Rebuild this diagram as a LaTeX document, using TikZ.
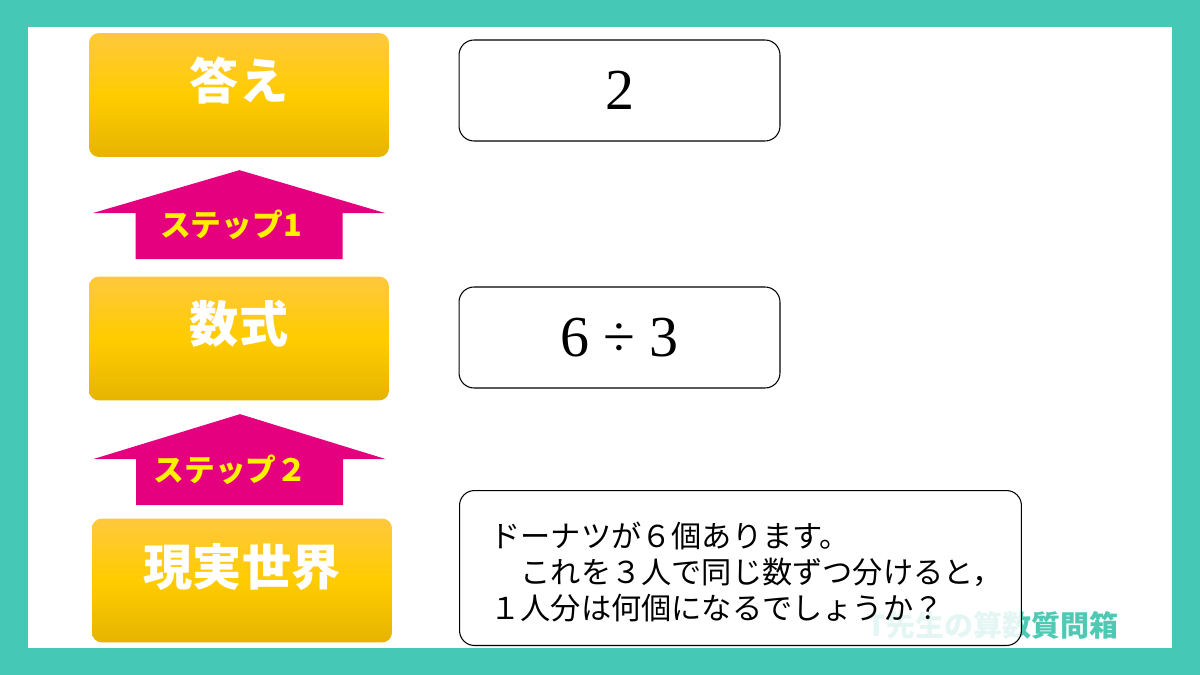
\documentclass[tikz,border=0pt]{standalone}
\usepackage{fontspec}
\newfontfamily\jpfont{Noto Sans CJK JP}
\newfontfamily\numfont{Liberation Serif}
\usepackage{tikz}
\usetikzlibrary{positioning,calc}

\definecolor{bgteal}{HTML}{45C8B5}
\definecolor{goldtop}{HTML}{FFC83D}
\definecolor{goldmid}{HTML}{FFCC00}
\definecolor{goldbot}{HTML}{E6B400}
\definecolor{steppink}{HTML}{E4007F}
\definecolor{stepyellow}{HTML}{FFF000}
\definecolor{marktext}{HTML}{4FC9B4}

\tikzset{
  goldbox/.style={rounded corners=0.2cm, minimum width=6cm, minimum height=2.48cm,
    top color=goldtop, bottom color=goldbot, middle color=goldmid, text=white,
    font=\jpfont\bfseries\fontsize{28pt}{28pt}\selectfont,
    text height=0.6cm, text depth=0.42cm, align=center},
  answerbox/.style={draw=black, line width=0.6pt, rounded corners=0.3cm, fill=white,
    minimum width=6.42cm, minimum height=2.02cm, font=\numfont\fontsize{33pt}{33pt}\selectfont},
  steptext/.style={text=stepyellow, font=\jpfont\bfseries\fontsize{17.5pt}{17.5pt}\selectfont},
}

\begin{document}
\begin{tikzpicture}[x=0.02cm, y=-0.02cm]
    %frame
    \useasboundingbox (0,0) rectangle (1200,675);
    \fill[bgteal] (0,0) rectangle (1200,675);
    \fill[white] (28,27) rectangle (1172,648);

    %coordinates
    \coordinate (K) at (239,95);
    \coordinate (S) at (239,338.5);
    \coordinate (G) at (242,580.5);

    \coordinate (A0) at (619.5,90.5);
    \coordinate (A1) at (619.5,337.5);
    \coordinate (Q)  at (459,490);

    \coordinate (wm) at (993,625);

    %nodes
    \node[goldbox] (kotae) at (K) {答え};
    \node[goldbox] (siki) at (S) {数式};
    \node[goldbox] (genjitsu) at (G) {現実世界};

    \node[answerbox] (ans) at (A0) {2};
    \node[answerbox] (expr) at (A1) {6 ÷ 3};

    \node[text=marktext, font=\jpfont\bfseries\fontsize{16.5pt}{16.5pt}\selectfont] (mark) at (wm) {T先生の算数質問箱};

    \node[draw=black, line width=0.6pt, rounded corners=0.3cm, fill=white, fill opacity=0.85,
          anchor=north west, minimum width=11.24cm, minimum height=3.1cm] (prob) at (Q) {};
    \node[anchor=west, align=left, inner sep=0pt, font=\jpfont\fontsize{17.2pt}{20.4pt}\selectfont] (probtext)
          at ($(prob.west)+(31,4)$)
          {ドーナツが６個あります。\\　これを３人で同じ数ずつ分けると，\\１人分は何個になるでしょうか？};

    %edges
    \coordinate (b1) at ($(siki.north)+(0,-17)$);
    \coordinate (b2) at ($(genjitsu.north)+(-2.5,-13)$);

    \fill[steppink] (b1) ++(-103.5,0) -- ++(0,-46) -- ++(-43,0) -- ($(b1)+(0.5,-89)$)
        -- ($(b1)+(146.5,-46)$) -- ++(-43,0) -- ++(0,46) -- cycle;
    \fill[steppink] (b2) ++(-103.5,0) -- ++(0,-46) -- ++(-43,0) -- ($(b2)+(0.5,-91)$)
        -- ($(b2)+(146.5,-46)$) -- ++(-43,0) -- ++(0,46) -- cycle;

    \node[steptext] (step1) at ($(b1)+(-8,-34)$) {ステップ1};
    \node[steptext] (step2) at ($(b2)+(-9,-35)$) {ステップ２};
\end{tikzpicture}
\end{document}
